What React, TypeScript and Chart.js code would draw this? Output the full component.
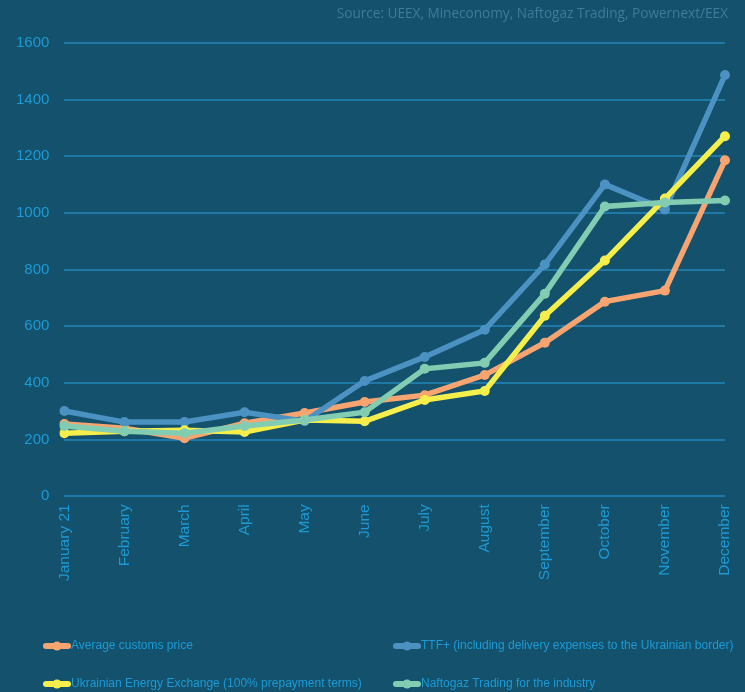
import React, { useEffect, useRef } from "react";
import { Chart, registerables } from "chart.js";

Chart.register(...registerables);

const months = [
  "January 21", "February", "March", "April", "May", "June",
  "July", "August", "September", "October", "November", "December",
];
const customsPrice = [255, 240, 205, 258, 294, 333, 357, 428, 542, 687, 726, 1186];
const ttfPlus = [301, 262, 262, 297, 265, 407, 492, 588, 818, 1101, 1012, 1487];
const ueex = [223, 230, 233, 227, 269, 265, 340, 372, 637, 832, 1051, 1271];
const naftogaz = [248, 230, 223, 248, 269, 297, 450, 471, 715, 1023, 1037, 1044];

const seriesNames = [
  "Average customs price",
  "TTF+ (including delivery expenses to the Ukrainian border)",
  "Ukrainian Energy Exchange (100% prepayment terms)",
  "Naftogaz Trading for the industry",
];
const seriesColors = ["#f7a470", "#4b92c3", "#f5ee4b", "#82cdb1"];
const seriesOrder = [3, 2, 1, 0];
const yTicks = [0, 200, 400, 600, 800, 1000, 1200, 1400, 1600];
const sourceNote = "Source: UEEX, Mineconomy, Naftogaz Trading, Powernext/EEX";

const BG = "#13516c";
const TICK = "#1d9ad5";
const GRID = "#1f78a6";

export default function App() {
  const ref = useRef<HTMLCanvasElement | null>(null);

  useEffect(() => {
    document.body.style.margin = "0";
    const canvas = ref.current;
    if (!canvas) return;
    const values = [customsPrice, ttfPlus, ueex, naftogaz];

    const bgPlugin = {
      id: "bg",
      beforeDraw(chart: any) {
        const c = chart.ctx;
        c.save();
        c.fillStyle = BG;
        c.fillRect(0, 0, chart.width, chart.height);
        c.restore();
      },
    };

    const extrasPlugin = {
      id: "extras",
      afterDraw(chart: any) {
        const c = chart.ctx;
        c.save();
        c.font = "13.6px 'Open Sans', sans-serif";
        c.fillStyle = "#3f7b9a";
        c.textAlign = "right";
        c.textBaseline = "middle";
        c.fillText(sourceNote, 728, 14);
        const cols = [43, 393];
        const rows = [646, 684];
        chart.data.datasets.forEach((ds: any, i: number) => {
          const x = cols[i % 2];
          const y = rows[Math.floor(i / 2)];
          c.strokeStyle = ds.borderColor;
          c.lineWidth = 6;
          c.lineCap = "round";
          c.beginPath();
          c.moveTo(x + 3, y);
          c.lineTo(x + 25, y);
          c.stroke();
          c.fillStyle = ds.borderColor;
          c.beginPath();
          c.arc(x + 14, y, 4.5, 0, Math.PI * 2);
          c.fill();
          c.font = "12px 'Liberation Sans', Arial, sans-serif";
          c.fillStyle = TICK;
          c.textAlign = "left";
          c.textBaseline = "middle";
          c.fillText(ds.label, x + 28, y);
        });
        c.restore();
      },
    };

    const chart = new Chart(canvas, {
      type: "line",
      data: {
        labels: months,
        datasets: values.map((v, i) => ({
          label: seriesNames[i],
          data: v,
          borderColor: seriesColors[i],
          backgroundColor: seriesColors[i],
          pointBackgroundColor: seriesColors[i],
          pointBorderColor: seriesColors[i],
          borderWidth: 5.5,
          pointRadius: 5,
          pointBorderWidth: 0,
          tension: 0,
          order: seriesOrder[i],
          fill: false,
        })),
      },
      options: {
        animation: false,
        responsive: false,
        maintainAspectRatio: false,
        layout: { padding: { left: 1, top: 43, right: 20, bottom: 103 } },
        plugins: {
          legend: { display: false },
          tooltip: { enabled: false },
        },
        scales: {
          x: {
            grid: { display: false, drawTicks: false },
            border: { display: false },
            afterFit(scale: any) {
              scale.paddingLeft = 0;
              scale.paddingRight = 0;
            },
            ticks: {
              color: TICK,
              font: { family: "'Liberation Sans', Arial, sans-serif", size: 15.5 },
              maxRotation: 90,
              minRotation: 90,
              padding: 8,
              autoSkip: false,
            },
          },
          y: {
            min: 0,
            max: 1600,
            afterBuildTicks(scale: any) {
              scale.ticks = yTicks.map((v) => ({ value: v }));
            },
            grid: { color: GRID, lineWidth: 2, drawTicks: false },
            border: { display: false },
            ticks: {
              color: TICK,
              font: { family: "'Liberation Sans', Arial, sans-serif", size: 15 },
              padding: 15,
              callback: (v: any) => String(v),
            },
          },
        },
      },
      plugins: [bgPlugin, extrasPlugin],
    });
    return () => chart.destroy();
  }, []);

  return (
    <div style={{ width: 745, height: 692, background: BG }}>
      <canvas ref={ref} width={745} height={692} style={{ display: "block" }} />
    </div>
  );
}
